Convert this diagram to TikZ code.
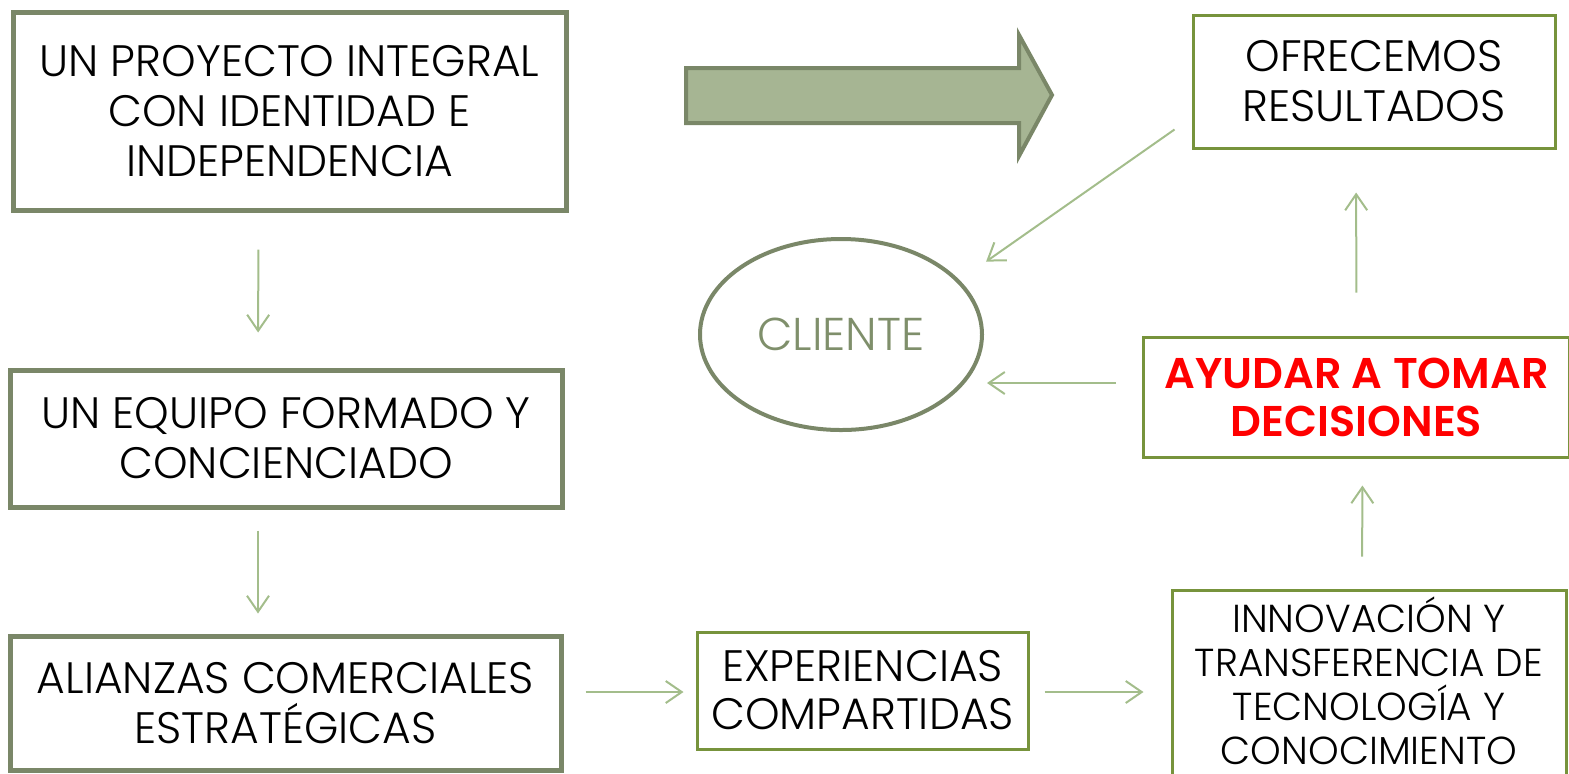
\documentclass[tikz,border=0pt]{standalone}
\usepackage{fontspec}
\setmainfont{Poppins Light}[BoldFont=Poppins SemiBold]
\usepackage{xcolor}
\definecolor{frameDark}{HTML}{7A8768}
\definecolor{arrowFill}{HTML}{A6B593}
\definecolor{frameLight}{HTML}{77933C}
\definecolor{linkColor}{HTML}{A3BD8B}
\definecolor{clientColor}{HTML}{7F8F6B}
\usetikzlibrary{arrows.meta,shapes.geometric}
\tikzset{
  darkBox/.style={
    rectangle,
    draw=frameDark,
    line width=2.5pt,
    fill=white,
    align=center,
    inner sep=0pt,
    font=\fontsize{22}{25}\selectfont
 },
  lightBox/.style={
    rectangle,
    draw=frameLight,
    line width=1.5pt,
    fill=white,
    align=center,
    inner sep=0pt,
    font=\fontsize{22}{24}\selectfont
 },
  clientShape/.style={
    ellipse,
    draw=frameDark,
    line width=2pt,
    text=clientColor,
    inner sep=0pt,
    font=\fontsize{23}{25}\selectfont
 },
  bigArrow/.style={
    draw=frameDark,
    line width=2pt,
    fill=arrowFill,
    line join=miter
 },
  linkArrow/.style={
    -{Straight Barb[length=8pt,width=11pt]},
    line width=1pt,
    color=linkColor
 }
}

\begin{document}
\begin{tikzpicture}[x=0.5pt,y=-0.5pt]
  \useasboundingbox (0,0) rectangle (1569,773);

  \node[darkBox, minimum width=276.5pt, minimum height=99pt] (proyecto) at (289.5,111)
    {UN PROYECTO INTEGRAL\\CON IDENTIDAD E\\INDEPENDENCIA};
  \node[darkBox, minimum width=276pt, minimum height=68.5pt] (equipo) at (286,438.5)
    {UN EQUIPO FORMADO Y\\CONCIENCIADO};
  \node[darkBox, minimum width=275.5pt, minimum height=67pt] (alianzas) at (285.5,703)
    {ALIANZAS COMERCIALES\\ESTRATÉGICAS};
  \node[lightBox, minimum width=165.5pt, minimum height=58.5pt] (experiencias) at (862.5,690.5)
    {EXPERIENCIAS\\COMPARTIDAS};
  \node[lightBox, minimum width=197pt, minimum height=100pt, text depth=9pt, font=\fontsize{19.5}{22}\selectfont] (innovacion) at (1369,690)
    {INNOVACIÓN Y\\TRANSFERENCIA DE\\TECNOLOGÍA Y\\CONOCIMIENTO};
  \node[lightBox, minimum width=213pt, minimum height=60pt, text=red, font=\fontsize{21.5}{24}\selectfont\bfseries] (ayudar) at (1356.5,397)
    {AYUDAR A TOMAR\\DECISIONES};
  \node[lightBox, minimum width=181pt, minimum height=66.5pt, font=\fontsize{22}{25}\selectfont] (resultados) at (1374,81.5)
    {OFRECEMOS\\RESULTADOS};
  \node[clientShape, minimum width=141pt, minimum height=95.5pt] (cliente) at (841,334.5) {CLIENTE};

  % fat arrow
  \draw[bigArrow] (686,68) -- (1019,68) -- (1019,35) -- (1052,95) -- (1019,156) -- (1019,123) -- (686,123) -- cycle;

  \draw[linkArrow, shorten <=18.5pt, shorten >=17.5pt] ([xshift=-15.5pt]proyecto.south) -- ([xshift=-14pt]equipo.north);
  \draw[linkArrow, shorten <=10.5pt, shorten >=10pt] ([xshift=-14pt]equipo.south) -- ([xshift=-13.75pt]alianzas.north);
  \draw[linkArrow, shorten <=11pt, shorten >=6pt] ([yshift=5.5pt]alianzas.east) -- ([yshift=-0.75pt]experiencias.west);
  \draw[linkArrow, shorten <=7.5pt, shorten >=13.5pt] ([yshift=-0.75pt]experiencias.east) -- ([yshift=-1pt]innovacion.west);
  \draw[linkArrow, shorten <=16pt, shorten >=13.5pt] ([xshift=-3.5pt]innovacion.north) -- ([xshift=3pt]ayudar.south);
  \draw[linkArrow, shorten <=21.5pt, shorten >=21.5pt] (ayudar.north) -- ([xshift=-9pt]resultados.south);
  \draw[linkArrow, shorten <=13pt] ([yshift=7pt]ayudar.west) -- ([xshift=1.5pt,yshift=-24.25pt]cliente.east);
  \draw[linkArrow] ([xshift=-8.5pt,yshift=10pt]resultados.south west) -- ([xshift=22pt,yshift=2pt]cliente.north east);
\end{tikzpicture}
\end{document}
